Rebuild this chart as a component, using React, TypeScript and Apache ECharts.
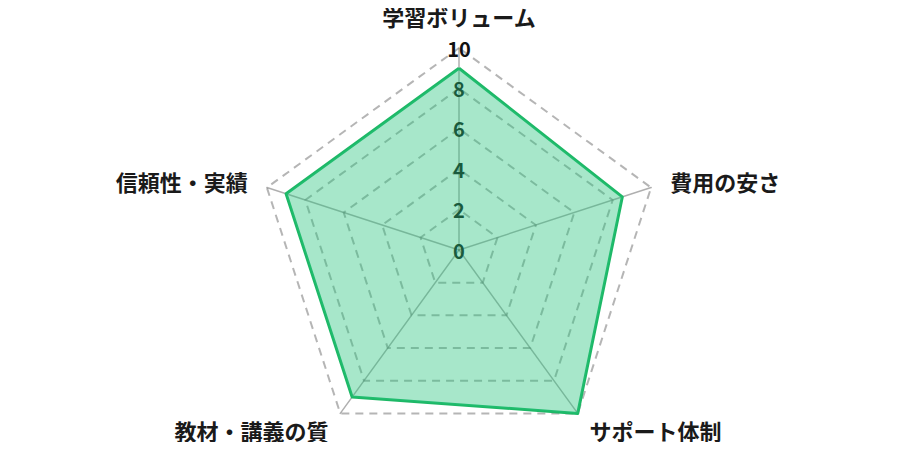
import React, { useEffect, useRef } from "react";
import * as echarts from "echarts";

// clockwise order from the top, as in the picture
const indicatorNames = ["学習ボリューム", "費用の安さ", "サポート体制", "教材・講義の質", "信頼性・実績"];
const scores = [9, 8.5, 10, 9, 9];
const maxScore = 10;

const font = '"Noto Sans CJK JP", "Noto Sans", sans-serif';

// ECharts radar runs counter-clockwise, so keep the first axis and reverse the rest
const order = [0, ...indicatorNames.map((_, i) => i).slice(1).reverse()];

const App: React.FC = () => {
  const chartRef = useRef<HTMLDivElement>(null);

  useEffect(() => {
    if (!chartRef.current) return;
    const chart = echarts.init(chartRef.current, undefined, { renderer: "svg" });

    chart.setOption({
      animation: false,
      radar: {
        center: [459, 250],
        radius: 202,
        startAngle: 90,
        splitNumber: 5,
        shape: "polygon",
        indicator: order.map((idx, i) => ({
          name: indicatorNames[idx],
          max: maxScore,
          min: 0,
          // tick labels only on the first axis
          axisLabel: i === 0 ? { show: true } : { show: false },
        })),
        axisName: {
          color: "#1a1a1a",
          fontSize: 22,
          fontWeight: "bold",
          fontFamily: font,
          lineHeight: 24,
        },
        nameGap: 20,
        axisLabel: {
          show: false,
          color: "#111",
          fontSize: 20,
          fontWeight: "bold",
          fontFamily: font,
          margin: 0,
          align: "center",
          verticalAlign: "middle",
          showMinLabel: true,
          showMaxLabel: true,
        },
        axisLine: {
          lineStyle: { color: "rgba(110,110,110,0.55)", width: 1.5 },
        },
        splitLine: {
          lineStyle: { color: "rgba(120,120,120,0.55)", width: 2, type: [8, 6] },
        },
        splitArea: { show: false },
      },
      series: [
        {
          type: "radar",
          symbol: "none",
          lineStyle: { color: "#1db866", width: 3 },
          areaStyle: { color: "rgba(40,195,125,0.58)" },
          data: [{ value: order.map((idx) => scores[idx]) }],
        },
      ],
    });

    return () => {
      chart.dispose();
    };
  }, []);

  return <div ref={chartRef} style={{ width: 900, height: 450, margin: -8 }} />;
};

export default App;
